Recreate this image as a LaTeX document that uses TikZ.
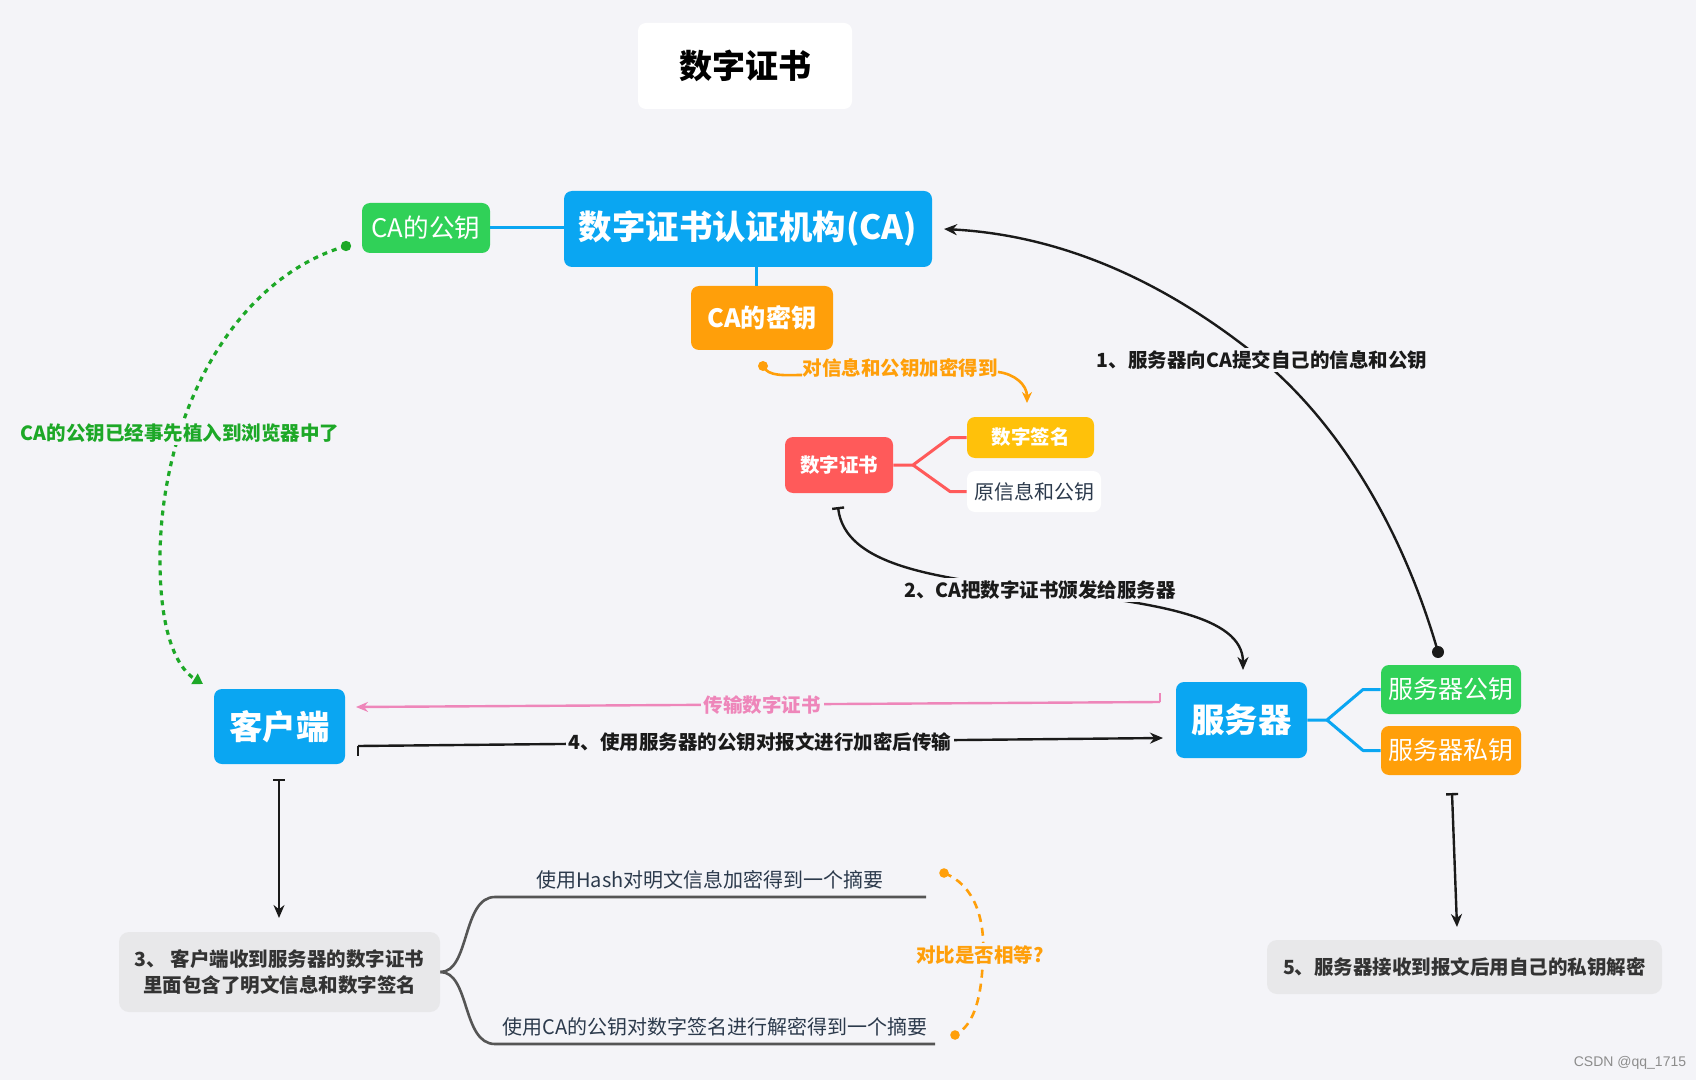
\documentclass[tikz,border=0pt]{standalone}
\usepackage{fontspec}
\setmainfont{Noto Sans CJK SC}
\newfontfamily\wmfont{Liberation Sans}
\usetikzlibrary{arrows.meta,calc}
\definecolor{bgc}{HTML}{F4F4F8}
\definecolor{cblue}{HTML}{0AA6F2}
\definecolor{cgreen}{HTML}{30D158}
\definecolor{corange}{HTML}{FF9F0A}
\definecolor{cred}{HTML}{FF5A5A}
\definecolor{cyellow}{HTML}{FFC10A}
\definecolor{cpink}{HTML}{EE86BA}
\definecolor{cgtext}{HTML}{1DA827}
\definecolor{cgray}{HTML}{E8E8EA}
\definecolor{ctext}{HTML}{333333}
\definecolor{cnavy}{HTML}{2C3A4C}
\definecolor{cline}{HTML}{555555}
\definecolor{cblack}{HTML}{1A1A1A}
\begin{document}
\begin{tikzpicture}[x=0.5pt,y=-0.5pt,
  box/.style={rounded corners=4pt, inner sep=0pt, align=center, text=white},
  big/.style={font=\fontsize{16.7}{20}\selectfont\bfseries},
  mid/.style={font=\fontsize{12.8}{15}\selectfont},
  midb/.style={font=\fontsize{12.6}{15}\selectfont\bfseries},
  sm/.style={font=\fontsize{10}{13}\selectfont},
  smb/.style={font=\fontsize{9.75}{13}\selectfont\bfseries},
  lbl/.style={fill=bgc, inner sep=1.5pt, font=\fontsize{9.75}{12}\selectfont\bfseries},
  conn/.style={line width=1.5pt},
  arr/.style={line width=1.2pt, cblack, -{Stealth[length=6.5pt,width=5.5pt]}},
  barstart/.style={{Bar[width=6pt]}-{Stealth[length=6.5pt,width=5.5pt]}}
]
\fill[bgc] (0,0) rectangle (1696,1080);
\useasboundingbox (0,0) rectangle (1696,1080);

% ---------- boxes ----------
\node[box, fill=white, text=black, minimum width=107pt, minimum height=43pt,
      font=\fontsize{16.5}{20}\selectfont\bfseries] (title) at (745,66) {数字证书};
\node[box, fill=cblue, big, minimum width=184pt, minimum height=38pt] (ca) at (748,229) {数字证书认证机构(CA)};
\node[box, fill=cgreen, mid, minimum width=64pt, minimum height=25pt] (capub) at (426,228) {CA的公钥};
\node[box, fill=corange, midb, minimum width=71pt, minimum height=32pt] (cakey) at (762,318) {CA的密钥};
\node[box, fill=cred, smb, minimum width=54pt, minimum height=28pt] (cert) at (839,465) {数字证书};
\node[box, fill=cyellow, smb, minimum width=63.5pt, minimum height=20.5pt] (sig) at (1030.5,437.5) {数字签名};
\node[box, fill=white, text=cnavy, sm, minimum width=67pt, minimum height=20.5pt] (orig) at (1034,491.5) {原信息和公钥};
\node[box, fill=cblue, big, minimum width=65.5pt, minimum height=37.5pt] (client) at (279.5,726.5) {客户端};
\node[box, fill=cblue, big, minimum width=65.5pt, minimum height=38pt] (server) at (1241.5,720) {服务器};
\node[box, fill=cgreen, font=\fontsize{12.5}{15}\selectfont, minimum width=70pt, minimum height=24.5pt] (spub) at (1451,689.5) {服务器公钥};
\node[box, fill=corange, font=\fontsize{12.5}{15}\selectfont, minimum width=70pt, minimum height=24.5pt] (spriv) at (1451,750.5) {服务器私钥};
\node[box, fill=cgray, text=ctext, smb, rounded corners=5pt, minimum width=160.5pt, minimum height=40pt] (box3) at (279.5,972)
  {3、 客户端收到服务器的数字证书\\里面包含了明文信息和数字签名};
\node[box, fill=cgray, text=ctext, smb, rounded corners=5pt, minimum width=197.5pt, minimum height=27pt] (box5) at (1464.5,967)
  {5、服务器接收到报文后用自己的私钥解密};

% ---------- tree connectors ----------
\coordinate (kx) at (756,0);
\draw[conn, cblue] (capub.east) -- (capub.east -| ca.west);
\draw[conn, cblue] (ca.south -| kx) -- (cakey.north -| kx);

\coordinate (rj) at (913,0);
\coordinate (rb) at (950,0);
\draw[conn, cred, line join=round] (cert.east) -- (cert.east -| rj) -- (sig.west -| rb) -- (sig.west);
\draw[conn, cred, line join=round] (cert.east -| rj) -- (orig.west -| rb) -- (orig.west);

\coordinate (sj) at (1327,0);
\coordinate (sb) at (1363,0);
\draw[conn, cblue, line join=round] (server.east) -- (server.east -| sj) -- (spub.west -| sb) -- (spub.west);
\draw[conn, cblue, line join=round] (server.east -| sj) -- (spriv.west -| sb) -- (spriv.west);

% ---------- arrow 1 ----------
\coordinate (a1s) at (1438,652);
\coordinate (l1c) at (1262,360);
\coordinate (a1e) at (944,229);
\draw[arr] (a1s) .. controls (1400,520) and (1334,420) .. (l1c) .. controls (1164,280) and (1060,235) .. (a1e);
\fill[cblack] (a1s) circle (3pt);
\node[lbl, text=cblack] (l1) at (l1c) {1、服务器向CA提交自己的信息和公钥};

% ---------- orange encrypt label ----------
\node[inner sep=0pt, text=corange, font=\fontsize{9.75}{12}\selectfont\bfseries] (labo) at (900,368) {对信息和公钥加密得到};
\coordinate (odot) at (763,366);
\coordinate (oarr) at (1027,403);
\draw[corange, line width=1.3pt] (odot) .. controls (768,377) and (785,375) .. ($(labo.west)+(0,7)$);
\draw[corange, line width=1.3pt, -{Stealth[length=5.5pt,width=5pt]}] ($(labo.east)+(0,4)$) .. controls (1015,374) and (1027,385) .. (oarr);
\fill[corange] (odot) circle (2.5pt);

% ---------- arrow 2 ----------
\coordinate (a2s) at (838,507);
\coordinate (l2c) at (1040,590);
\coordinate (a2e) at (1243,670);
\draw[arr, barstart] (a2s) .. controls (845,565) and (933,578) .. (l2c) .. controls (1153,603) and (1243,615) .. (a2e);
\node[lbl, text=cblack] (l2) at (l2c) {2、CA把数字证书颁发给服务器};

% ---------- green dotted ----------
\coordinate (gs) at (346,246);
\coordinate (gm) at (160,560);
\coordinate (ge) at (203,684);
\draw[cgtext, line width=1.6pt, dash pattern=on 2.5pt off 2.5pt, -{Triangle[length=5pt,width=6pt]}]
  (gs) .. controls (230,280) and (160,420) .. (gm) .. controls (160,640) and (180,670) .. (ge);
\fill[cgtext] (gs) circle (2.6pt);
\node[lbl, text=cgtext] (lg) at (180,433) {CA的公钥已经事先植入到浏览器中了};

% ---------- pink transmit ----------
\coordinate (pks) at (1160,702);
\coordinate (pke) at (356,707);
\draw[cpink, line width=1.2pt, -{Stealth[length=6pt,width=5pt]}] (pks) -- (pke);
\draw[cpink, line width=1.2pt] (pks) -- ++(0,-9);
\node[lbl, text=cpink] (lp) at (762,705) {传输数字证书};

% ---------- black 4 ----------
\coordinate (b4s) at (358,746);
\coordinate (b4e) at (1163,738);
\draw[arr] (b4s) -- (b4e);
\draw[cblack, line width=1.2pt] (b4s) -- ++(0,10);
\node[lbl, text=cblack] (l4) at (760,742) {4、使用服务器的公钥对报文进行加密后传输};

% ---------- down arrows ----------
\coordinate (cds) at (279,779);
\coordinate (cde) at (279,918);
\draw[arr, barstart] (cds) -- (cde);
\coordinate (pds) at (1452,793);
\coordinate (pde) at (1457,927);
\draw[arr, barstart] (pds) -- (pde);

% ---------- box 3 branches ----------
\coordinate (t1) at (495,897);
\coordinate (t2) at (926,897);
\coordinate (u1) at (495,1044);
\coordinate (u2) at (935,1044);
\draw[cline, line width=1.3pt] (box3.east) .. controls (470,972) and (462,897) .. (t1) -- (t2);
\draw[cline, line width=1.3pt] (box3.east) .. controls (470,972) and (462,1044) .. (u1) -- (u2);
\node[text=cnavy, sm, inner sep=0pt] (h1) at (710,880) {使用Hash对明文信息加密得到一个摘要};
\node[text=cnavy, sm, inner sep=0pt] (h2) at (715,1027) {使用CA的公钥对数字签名进行解密得到一个摘要};

% ---------- orange dashed compare ----------
\coordinate (os) at (944,873);
\coordinate (oc) at (983,955);
\coordinate (oe) at (955,1035);
\draw[corange, line width=1.3pt, dash pattern=on 4pt off 3pt]
  (os) .. controls (975,885) and (985,920) .. (oc) .. controls (982,995) and (975,1025) .. (oe);
\fill[corange] (os) circle (2.4pt);
\fill[corange] (oe) circle (2.4pt);
\node[lbl, text=corange] (lc) at (980,955) {对比是否相等?};

% ---------- watermark ----------
\node[text=black!45, font=\wmfont\fontsize{7}{8}\selectfont, inner sep=0pt] (wm) at (1630,1063) {CSDN @qq\_1715};
\end{tikzpicture}
\end{document}
